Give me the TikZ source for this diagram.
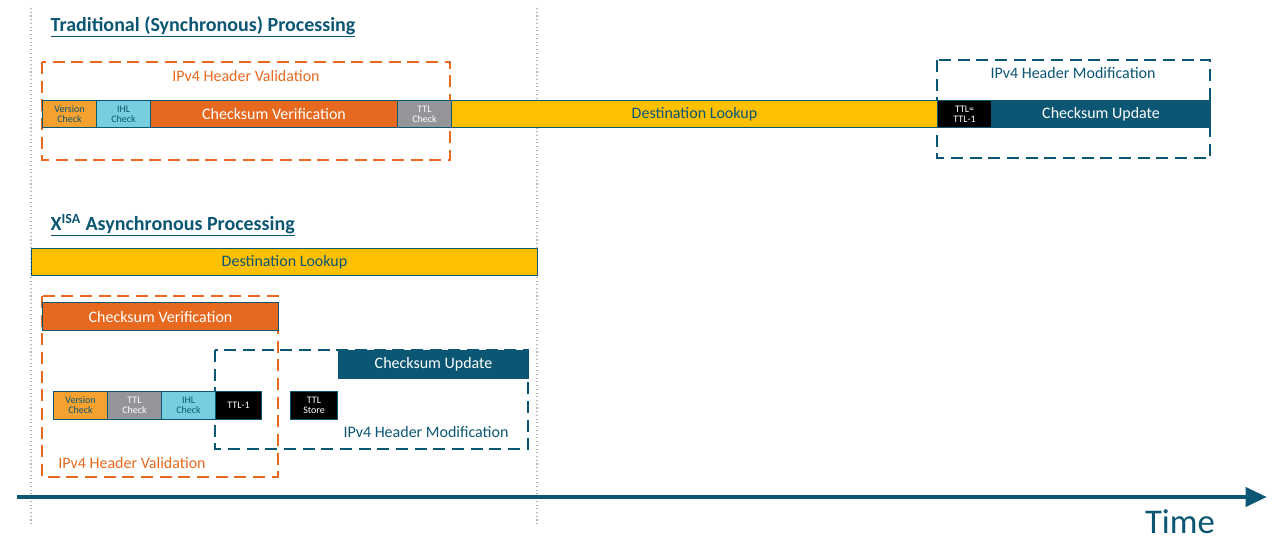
\documentclass[tikz,border=0pt]{standalone}
\usepackage{fontspec}
\setmainfont{Carlito}
\usetikzlibrary{arrows.meta}
\definecolor{petrol}{HTML}{0B5673}
\definecolor{naranja}{HTML}{E7691F}
\definecolor{ambar}{HTML}{F4A12F}
\definecolor{celeste}{HTML}{77CEDE}
\definecolor{gris}{HTML}{939598}
\definecolor{amarillo}{HTML}{FFC000}
\tikzset{
  blk/.style={draw=petrol, line width=0.8pt, anchor=north west, inner sep=0pt, align=center},
  tiny/.style={font=\fontsize{7.5}{7.5}\selectfont},
  big/.style={font=\fontsize{12}{12}\selectfont},
  grupo/.style={dashed, dash pattern=on 9pt off 5pt, line width=1.6pt},
}
\begin{document}
\begin{tikzpicture}[x=0.75pt, y=-0.75pt]
				\useasboundingbox (0,0) rectangle (1283,552);

				\draw[gray!60, dotted, thick] (31,8) -- (31,525);
				\draw[gray!60, dotted, thick] (537,8) -- (537,525);

				\node[anchor=west, petrol, font=\fontsize{15}{15}\selectfont\bfseries] (t1) at (46,27) {\underline{Traditional (Synchronous) Processing}};
				\node[anchor=west, petrol, font=\fontsize{15}{15}\selectfont\bfseries] (t2) at (46,225) {\underline{X\textsuperscript{ISA} Asynchronous Processing}};

				% traditional
				\draw[grupo, naranja] (42,62) rectangle (450,160);
				\node[naranja, big] (hv1) at (246,76) {IPv4 Header Validation};
				\draw[grupo, petrol] (937,60) rectangle (1210,158);
				\node[petrol, big] (hm1) at (1073,73) {IPv4 Header Modification};

				\node[blk, tiny, fill=ambar, minimum width=54*0.75pt, minimum height=27*0.75pt, text=petrol] (v1) at (42,100) {Version\\Check};
				\node[blk, tiny, fill=celeste, minimum width=54*0.75pt, minimum height=27*0.75pt, text=petrol] (i1) at (96,100) {IHL\\Check};
				\node[blk, big, fill=naranja, minimum width=247*0.75pt, minimum height=27*0.75pt, text=white] (c1) at (150,100) {Checksum Verification};
				\node[blk, tiny, fill=gris, minimum width=54*0.75pt, minimum height=27*0.75pt, text=white] (l1) at (397,100) {TTL\\Check};
				\node[blk, big, fill=amarillo, minimum width=486*0.75pt, minimum height=27*0.75pt, text=petrol] (d1) at (451,100) {Destination Lookup};
				\node[blk, tiny, fill=black, minimum width=54*0.75pt, minimum height=27*0.75pt, text=white] (m1) at (937,100) {TTL=\\TTL-1};
				\node[blk, big, fill=petrol, minimum width=219*0.75pt, minimum height=27*0.75pt, text=white] (u1) at (991,100) {Checksum Update};

				% asynchronous
				\node[blk, big, fill=amarillo, minimum width=506*0.75pt, minimum height=27*0.75pt, text=petrol] (d2) at (31,248) {Destination Lookup};

				\draw[grupo, naranja] (42,296) rectangle (278,477);
				\node[blk, big, fill=naranja, minimum width=236*0.75pt, minimum height=28*0.75pt, text=white] (c2) at (42,302) {Checksum Verification};
				\node[naranja, big] (hv2) at (132,463) {IPv4 Header Validation};

				\draw[grupo, petrol] (215,350) rectangle (528,449);
				\node[blk, big, fill=petrol, minimum width=190*0.75pt, minimum height=28*0.75pt, text=white] (u2) at (338,350) {Checksum Update};
				\node[petrol, big] (hm2) at (426,432) {IPv4 Header Modification};

				\node[blk, tiny, fill=ambar, minimum width=54*0.75pt, minimum height=28*0.75pt, text=petrol] (v2) at (53,391) {Version\\Check};
				\node[blk, tiny, fill=gris, minimum width=54*0.75pt, minimum height=28*0.75pt, text=white] (l2) at (107,391) {TTL\\Check};
				\node[blk, tiny, fill=celeste, minimum width=54*0.75pt, minimum height=28*0.75pt, text=petrol] (i2) at (161,391) {IHL\\Check};
				\node[blk, tiny, fill=black, minimum width=46*0.75pt, minimum height=28*0.75pt, text=white] (m2) at (215,391) {TTL-1};
				\node[blk, tiny, fill=black, minimum width=47*0.75pt, minimum height=28*0.75pt, text=white] (s2) at (290,391) {TTL\\Store};

				% time axis
				\coordinate (a0) at (17,497);
				\coordinate (a1) at (1267,497);
				\draw[petrol, line width=3.5pt, -{Triangle[length=16pt, width=14pt]}] (a0) -- (a1);
				\node[petrol, font=\fontsize{26}{26}\selectfont] (tm) at (1180,522) {Time};
			\end{tikzpicture}
\end{document}
